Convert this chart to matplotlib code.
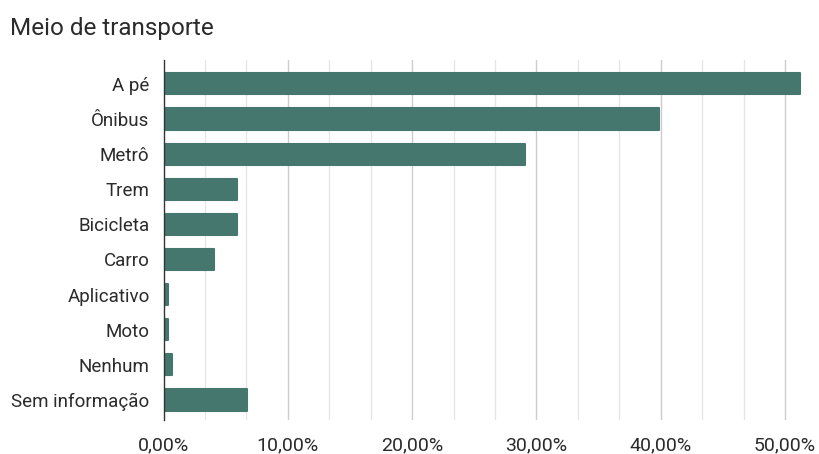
import matplotlib
matplotlib.use("Agg")
import matplotlib.pyplot as plt
import numpy as np
from matplotlib.ticker import FixedLocator, FuncFormatter

categories = ["A pé", "Ônibus", "Metrô", "Trem", "Bicicleta", "Carro",
              "Aplicativo", "Moto", "Nenhum", "Sem informação"]
values = [51.2, 39.9, 29.05, 5.95, 5.9, 4.1, 0.35, 0.35, 0.7, 6.7]
major_ticks = [0, 10, 20, 30, 40, 50]

plt.rcParams['font.family'] = ['Roboto', 'DejaVu Sans']

fig = plt.figure(figsize=(8.19, 4.54), dpi=100)
ax = fig.add_axes([163.5/819, 1-420/454, (816-163.5)/819, (420-60)/454])

y = np.arange(len(categories))
bars = ax.barh(y, values, height=0.6, color="#45776f", edgecolor="#45776f",
               linewidth=1.5, zorder=3)
for b in bars:
    b.set_joinstyle("round")

ax.set_xlim(0, 52.5)
ax.set_ylim(len(categories) - 0.43, -0.68)

minor = [m for m in np.arange(0, 52.5, 10/3) if all(abs(m - t) > 0.01 for t in major_ticks)]
for m in minor:
    ax.axvline(m, color="#e6e6e6", lw=1, zorder=1)
for t in major_ticks[1:]:
    ax.axvline(t, color="#cccccc", lw=1, zorder=1)

ax.xaxis.set_major_locator(FixedLocator(major_ticks))
ax.xaxis.set_major_formatter(FuncFormatter(lambda v, p: f"{v:.2f}%".replace(".", ",")))
ax.set_yticks(y)
ax.set_yticklabels(categories)
ax.tick_params(axis="both", length=0, colors="#2b2b2b")
ax.tick_params(axis="x", pad=12, labelsize=14)
ax.tick_params(axis="y", pad=10, labelsize=13.5)

for s in ["top", "right", "bottom"]:
    ax.spines[s].set_visible(False)
ax.spines["left"].set_color("#333333")
ax.spines["left"].set_linewidth(1)
ax.spines["left"].set_zorder(4)

fig.text(10/819, 1-28/454, "Meio de transporte", fontsize=17.5, color="#2b2b2b", va="center", ha="left")

fig.savefig("out.png", dpi=100)
